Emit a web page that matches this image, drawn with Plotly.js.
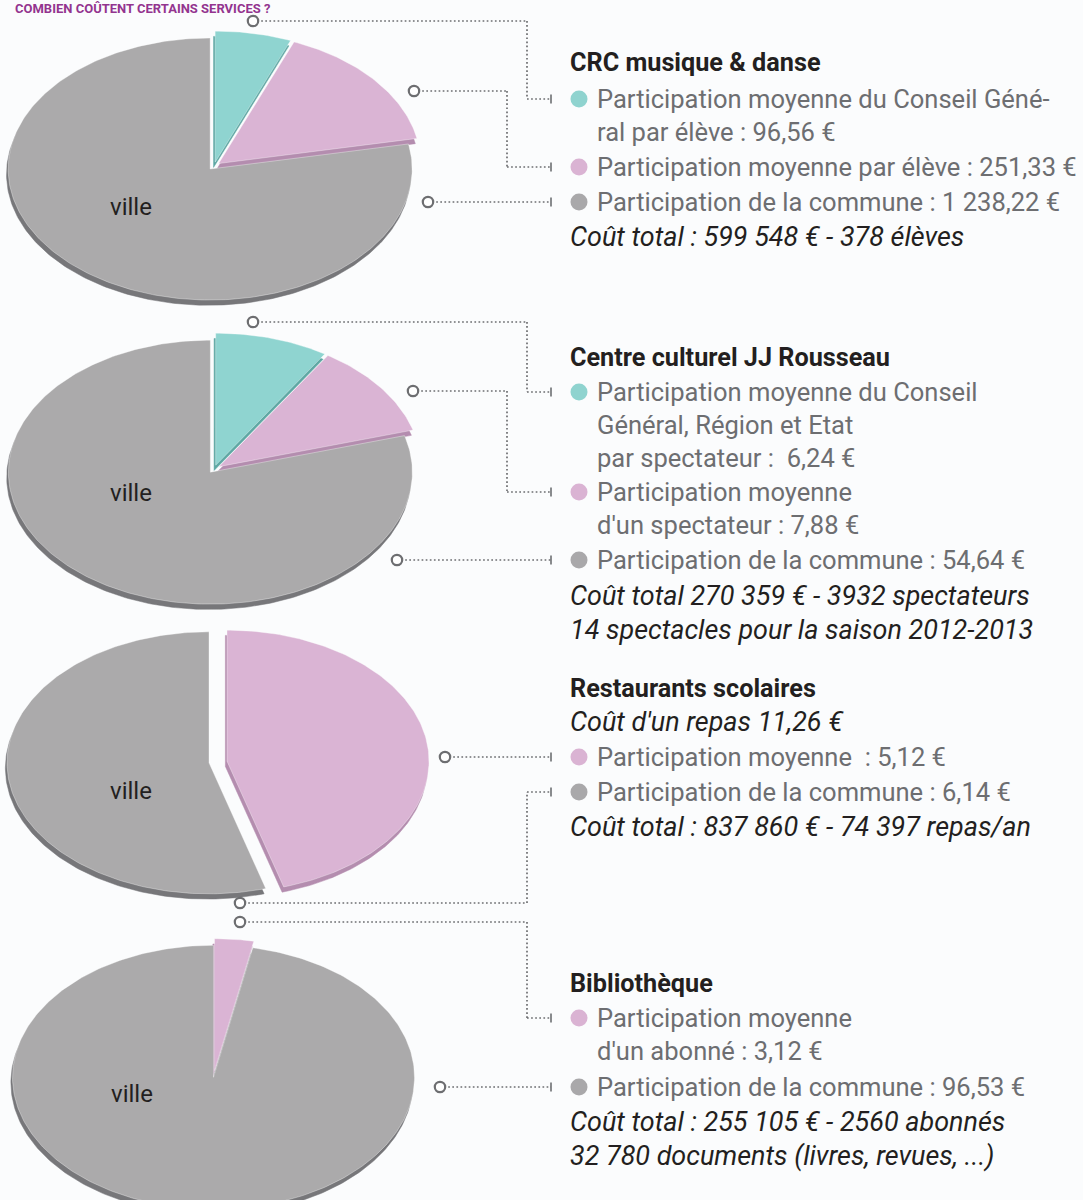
<!DOCTYPE html>
<html>
<head>
<meta charset="utf-8">
<script src="https://cdn.plot.ly/plotly-3.0.1.min.js"></script>
<style>
  html, body { margin: 0; padding: 0; background: #fbfcfd; }
  #chart { width: 1083px; height: 1200px; }
</style>
</head>
<body>
<div id="chart"></div>
<script>
// ---------------- DATA ----------------
const title = "COMBIEN COÛTENT CERTAINS SERVICES ?";
const services = ["CRC musique & danse", "Centre culturel JJ Rousseau", "Restaurants scolaires", "Bibliothèque"];
const sliceLabel = "ville";

// slices clockwise from 12 o'clock: [Conseil Général (teal), usager (pink), commune (gray)]
const crcKinds = ["teal", "pink", "gray"];
const crcValues = [96.56, 251.33, 1238.22];
const ccKinds = ["teal", "pink", "gray"];
const ccValues = [6.24, 7.88, 54.64];
const restoKinds = ["pink", "gray"];
const restoValues = [5.12, 6.14];
const biblioKinds = ["pink", "gray"];
const biblioValues = [3.12, 96.53];

const crcNote = ["Coût total : 599 548 € - 378 élèves"];
const ccNote = ["Coût total 270 359 € - 3932 spectateurs", "14 spectacles pour la saison 2012-2013"];
const restoIntro = "Coût d'un repas 11,26 €";
const restoNote = ["Coût total : 837 860 € - 74 397 repas/an"];
const biblioNote = ["Coût total : 255 105 € - 2560 abonnés", "32 780 documents (livres, revues, ...)"];

// ---------------- HELPERS ----------------
const W = 1083, H = 1200;
const px = x => x / W;
const py = y => 1 - y / H;
function fmt(v) {
  let [i, d] = v.toFixed(2).split(".");
  i = i.replace(/\B(?=(\d{3})+(?!\d))/g, " ");
  return i + "," + d;
}
const eur = v => fmt(v) + " €";

const FAMILY = "Roboto";
const cv = document.createElement("canvas").getContext("2d");
function fitSize(str, style, weight, target, fallback) {
  try {
    cv.font = `${style} ${weight} 100px "${FAMILY}"`;
    const w = cv.measureText(str).width;
    if (!w) return fallback;
    return 100 * target / w;
  } catch (e) { return fallback; }
}

// text blocks (content)
const blocks = [
  [
    {t: "head", s: services[0]},
    {t: "item", k: "teal", s: "Participation moyenne du Conseil Géné-"},
    {t: "cont", s: "ral par élève : " + eur(crcValues[0])},
    {t: "item", k: "pink", s: "Participation moyenne par élève : " + eur(crcValues[1])},
    {t: "item", k: "gray", s: "Participation de la commune : " + eur(crcValues[2])},
    {t: "ital", s: crcNote[0]}
  ],
  [
    {t: "head", s: services[1]},
    {t: "item", k: "teal", s: "Participation moyenne du Conseil"},
    {t: "cont", s: "Général, Région et Etat"},
    {t: "cont", s: "par spectateur :  " + eur(ccValues[0])},
    {t: "item", k: "pink", s: "Participation moyenne"},
    {t: "cont", s: "d'un spectateur : " + eur(ccValues[1])},
    {t: "item", k: "gray", s: "Participation de la commune : " + eur(ccValues[2])},
    {t: "ital", s: ccNote[0]},
    {t: "ital", s: ccNote[1]}
  ],
  [
    {t: "head", s: services[2]},
    {t: "ital", s: restoIntro},
    {t: "item", k: "pink", s: "Participation moyenne  : " + eur(restoValues[0])},
    {t: "item", k: "gray", s: "Participation de la commune : " + eur(restoValues[1])},
    {t: "ital", s: restoNote[0]}
  ],
  [
    {t: "head", s: services[3]},
    {t: "item", k: "pink", s: "Participation moyenne"},
    {t: "cont", s: "d'un abonné : " + eur(biblioValues[0])},
    {t: "item", k: "gray", s: "Participation de la commune : " + eur(biblioValues[1])},
    {t: "ital", s: biblioNote[0]},
    {t: "ital", s: biblioNote[1]}
  ]
];

// ---------------- LAYOUT / STYLE ----------------
const fillColor = {teal: "#8fd4d0", pink: "#dab4d4", gray: "#abaaab"};
const rimColor = {teal: "#5fa8a4", pink: "#b48daf", gray: "#77777a"};
const bulletColor = {teal: "#8fd3cf", pink: "#dab3d3", gray: "#a9a8aa"};
const pies = [
  {kinds: crcKinds, values: crcValues},
  {kinds: ccKinds, values: ccValues},
  {kinds: restoKinds, values: restoValues},
  {kinds: biblioKinds, values: biblioValues}
];
const pieGeom = [
  {cx: 214, cy: 166, rx: 202, ry: 131, pull: 0.03, label: [-0.41, -0.31]},
  {cx: 214, cy: 469, rx: 202, ry: 132, pull: 0.03, label: [-0.41, -0.18]},
  {cx: 218, cy: 762, rx: 202, ry: 131, pull: 0.045, label: [-0.43, -0.22]},
  {cx: 214, cy: 1074, rx: 201, ry: 132, pull: 0.025, label: [-0.41, -0.15]}
];
const rowY = [
  [63, 99, 132, 167, 202, 237],
  [357, 392, 425, 458, 492, 525, 560, 596, 630],
  [688, 722, 757, 792, 827],
  [983, 1018, 1051, 1087, 1122, 1156]
];
// connector polylines (pixel positions), one per slice, in slice order
const connectors = [
  [[[253, 21], [527, 21], [527, 99], [551, 99]],
   [[414, 91], [507, 91], [507, 167], [551, 167]],
   [[428, 202], [551, 202]]],
  [[[253, 322], [527, 322], [527, 392], [551, 392]],
   [[413, 391], [507, 391], [507, 492], [551, 492]],
   [[397, 560], [551, 560]]],
  [[[445, 757], [551, 757]],
   [[240, 903], [527, 903], [527, 792], [551, 792]]],
  [[[240, 922], [527, 922], [527, 1018], [551, 1018]],
   [[440, 1087], [551, 1087]]]
];
const xHead = 570, xBullet = 579, xItem = 597, bulletR = 8.5, ringR = 5.2;
const inkDark = "#231f20", inkGray = "#6d6e71", lineGray = "#6d6e71";

const sizeItem = fitSize("Participation moyenne par élève : 251,33 €", "normal", "400", 480, 22);
const sizeHead = fitSize("Centre culturel JJ Rousseau", "normal", "700", 320, 22);
const sizeItal = fitSize("Coût total 270 359 € - 3932 spectateurs", "italic", "400", 460, 22);
const sizeTitle = Math.min(13, fitSize(title, "normal", "700", 290, 13));

// ---------------- BUILD ----------------
const traces = [];
const layout = {
  width: W, height: H,
  margin: {l: 0, r: 0, t: 0, b: 0},
  paper_bgcolor: "#fbfcfd",
  plot_bgcolor: "rgba(0,0,0,0)",
  showlegend: false,
  font: {family: FAMILY},
  shapes: [],
  annotations: []
};

function wedge(a0, a1, pull, sdx, sdy) {
  const mid = (a0 + a1) / 2;
  const ox = pull * Math.sin(mid) + sdx, oy = pull * Math.cos(mid) + sdy;
  const xs = [ox], ys = [oy];
  const n = Math.max(3, Math.ceil((a1 - a0) / (Math.PI / 180)));
  for (let i = 0; i <= n; i++) {
    const a = a0 + (a1 - a0) * i / n;
    xs.push(ox + Math.sin(a));
    ys.push(oy + Math.cos(a));
  }
  xs.push(ox); ys.push(oy);
  return {xs, ys};
}

pies.forEach((pie, p) => {
  const g = pieGeom[p];
  const pad = 1.12;
  const x0 = Math.max(0, g.cx - g.rx * pad), x1 = Math.min(W, g.cx + g.rx * pad);
  const y0 = Math.max(0, g.cy - g.ry * pad), y1 = Math.min(H, g.cy + g.ry * pad);
  const sfx = p === 0 ? "" : String(p + 1);
  layout["xaxis" + sfx] = {domain: [x0 / W, x1 / W], range: [(x0 - g.cx) / g.rx, (x1 - g.cx) / g.rx],
    visible: false, fixedrange: true, anchor: "y" + sfx};
  layout["yaxis" + sfx] = {domain: [1 - y1 / H, 1 - y0 / H], range: [(g.cy - y1) / g.ry, (g.cy - y0) / g.ry],
    visible: false, fixedrange: true, anchor: "x" + sfx};
  const total = pie.values.reduce((a, b) => a + b, 0);
  let acc = 0;
  const angles = pie.values.map(v => { const a0 = acc / total * 2 * Math.PI; acc += v; return [a0, acc / total * 2 * Math.PI]; });
  // rim (3D edge) first, then faces
  [["rim", -0.008, -0.04], ["face", 0, 0]].forEach(([kind, sdx, sdy]) => {
    pie.values.forEach((v, i) => {
      const w = wedge(angles[i][0], angles[i][1], g.pull, sdx, sdy);
      const col = kind === "rim" ? rimColor[pie.kinds[i]] : fillColor[pie.kinds[i]];
      traces.push({
        type: "scatter", mode: "lines", x: w.xs, y: w.ys,
        xaxis: "x" + sfx, yaxis: "y" + sfx,
        fill: "toself", fillcolor: col,
        line: {width: kind === "rim" ? 0.5 : 1, color: kind === "rim" ? col : "rgba(255,255,255,0.35)"},
        hoverinfo: "skip", name: pie.kinds[i] + " " + v
      });
    });
  });
  layout.annotations.push({
    xref: "x" + sfx, yref: "y" + sfx, x: g.label[0], y: g.label[1],
    text: sliceLabel, showarrow: false, xanchor: "center", yanchor: "middle",
    font: {family: FAMILY, size: 24, color: inkDark}
  });

  // connectors
  connectors[p].forEach(path => {
    for (let k = 0; k < path.length - 1; k++) {
      layout.shapes.push({type: "line", xref: "paper", yref: "paper",
        x0: px(path[k][0]), y0: py(path[k][1]), x1: px(path[k + 1][0]), y1: py(path[k + 1][1]),
        line: {color: lineGray, width: 1.7, dash: "1.7px,2.4px"}});
    }
    const s = path[0], e = path[path.length - 1];
    layout.shapes.push({type: "circle", xref: "paper", yref: "paper",
      x0: px(s[0] - ringR), x1: px(s[0] + ringR), y0: py(s[1] + ringR), y1: py(s[1] - ringR),
      fillcolor: "#ffffff", line: {color: lineGray, width: 2.2}});
    layout.shapes.push({type: "line", xref: "paper", yref: "paper",
      x0: px(e[0]), x1: px(e[0]), y0: py(e[1] - 4.5), y1: py(e[1] + 4.5),
      line: {color: lineGray, width: 1.6}});
  });
});

// text blocks
blocks.forEach((lines, b) => {
  lines.forEach((ln, j) => {
    const y = rowY[b][j];
    let x = xHead, font;
    if (ln.t === "head") font = {family: FAMILY, size: sizeHead, color: inkDark, weight: 700};
    else if (ln.t === "ital") font = {family: FAMILY, size: sizeItal, color: inkDark, style: "italic"};
    else { x = xItem; font = {family: FAMILY, size: sizeItem, color: inkGray}; }
    layout.annotations.push({xref: "paper", yref: "paper", x: px(x - 2), y: py(y),
      xanchor: "left", yanchor: "middle", showarrow: false, text: ln.s, font: font});
    if (ln.t === "item") {
      layout.shapes.push({type: "circle", xref: "paper", yref: "paper",
        x0: px(xBullet - bulletR), x1: px(xBullet + bulletR),
        y0: py(y + bulletR), y1: py(y - bulletR),
        fillcolor: bulletColor[ln.k], line: {width: 0}});
    }
  });
});

// page title, kept inside the top edge, above the first connector
layout.annotations.push({xref: "paper", yref: "paper", x: px(14), y: 1,
  xanchor: "left", yanchor: "top", showarrow: false, text: title, borderpad: 0,
  font: {family: FAMILY, size: sizeTitle, color: "#93348f", weight: 700}});

Plotly.newPlot("chart", traces, layout, {displayModeBar: false, staticPlot: true});
</script>
</body>
</html>
